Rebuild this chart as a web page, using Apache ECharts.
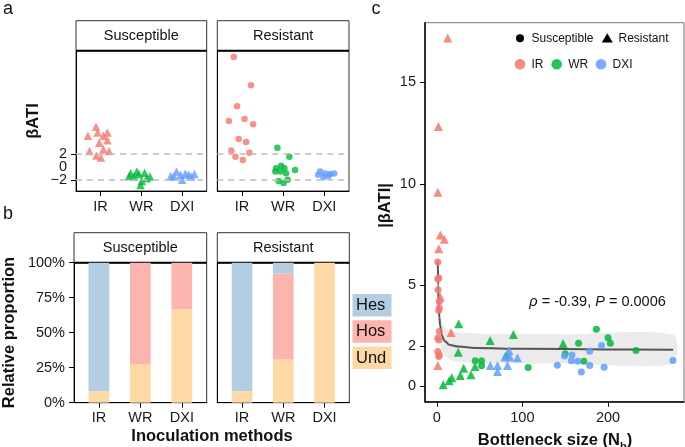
<!DOCTYPE html>
<html><head><meta charset="utf-8">
<script src="https://cdn.jsdelivr.net/npm/echarts@6/dist/echarts.min.js"></script>
<style>html,body{margin:0;padding:0;background:#fff}#c{width:685px;height:447px}</style>
</head><body><div id="c"></div>
<script>
const FONT = '"Liberation Sans", Arial, sans-serif';
const methods = ['IR', 'WR', 'DXI'];
const methodColors = ['#F8766D', '#00BA38', '#619CFF'];
const propNames = ['Und', 'Hos', 'Hes'];
const propColors = ['#FED9A6', '#FBB4AE', '#B3CDE3'];

// Panel a: [jitter offset from category, βATI]
const aSusIR = [[-0.11,6.3],[-0.31,4.9],[0.07,4.9],[0.17,5.4],[-0.07,5.4],[0.17,4.2],[-0.03,3.8],[0.07,2.8],[-0.27,2.5],[0.21,2.5],[-0.10,1.8],[0.01,1.5]];
const aSusWR = [[-0.26,-0.97],[-0.11,-0.7],[0.08,-0.88],[0.21,-1.5],[-0.18,-1.5],[0.01,-2.2],[-0.02,-2.8],[-0.06,-1.1],[0.13,-1.75],[-0.30,-1.4]];
const aSusDXI = [[-0.28,-1.4],[-0.14,-0.7],[-0.04,-1.2],[0.08,-1.0],[0.16,-1.2],[0.30,-1.1],[0.0,-2.0],[-0.20,-1.5],[0.22,-1.5]];
const aResIR = [[-0.20,17.2],[0.22,12.8],[-0.12,9.5],[-0.32,7.2],[0.06,7.5],[0.27,6.7],[-0.08,4.4],[0.10,3.9],[-0.26,2.6],[0.18,2.25],[-0.16,1.6],[0.02,1.1]];
const aResWR = [[-0.14,3.0],[0.15,1.6],[0.29,-0.45],[-0.17,-0.2],[-0.05,0.2],[0.03,-0.2],[-0.19,-0.7],[0.07,-0.97],[-0.11,-2.2],[0.01,-2.5],[0.11,-2.0],[-0.07,-0.7]];
const aResDXI = [[-0.10,-0.7],[0.02,-1.0],[0.14,-1.1],[0.24,-1.0],[-0.15,-1.2],[-0.02,-1.6],[0.10,-1.4]];
const aTicks = [-2, 0, 2];
const aThresholds = [2, -2];

// Panel b: relative proportions (%) per method IR, WR, DXI
const bSusHes = [91.7, 0, 0];
const bSusHos = [0, 72.7, 33.3];
const bSusUnd = [8.3, 27.3, 66.7];
const bResHes = [91.7, 7.7, 0];
const bResHos = [0, 61.5, 0];
const bResUnd = [8.3, 30.8, 100];
const bTicks = [0, 25, 50, 75, 100];

// Panel c: [bottleneck size Nb, |βATI|]
const cSusIR = [[1.2,6.14],[2.3,5.35],[1.2,5.3],[1.5,4.77],[3,4.19],[3,3.87],[2.3,3.75],[3,2.71],[1.2,2.39],[2.3,2.3],[1.2,1.73],[3,1.56],[2.3,1.48]];
const cResIR = [[12.8,17.19],[1.9,12.83],[1.2,9.59],[4.2,7.48],[8.8,7.27],[2.3,6.8],[4.2,4.41],[16.6,2.67],[1.2,1.04]];
const cSusWR = [[44.9,1.27],[52.3,1.27],[52.3,1.02],[106.8,0.94],[186.4,2.83],[200,2.4],[202.7,2.13],[165.6,2.14],[232.6,1.78],[150,1.61],[171.8,1.24]];
const cResWR = [[25.6,3.09],[25.1,1.69],[62.3,2.27],[89.5,2.56],[81.2,1.56],[147.5,2.12],[31.4,0.9],[27.4,0.54],[39.9,0.58],[17.6,0.43],[14.5,0.28],[7.5,0.09],[44.7,0.99]];
const cSusDXI = [[140.8,1.05],[149.2,1.5],[158,1.55],[157.3,1.27],[164.7,1.25],[178.6,1.74],[178.6,1.04],[168.8,0.71],[192.4,2.02],[195.5,0.95],[275.8,1.28]];
const cResDXI = [[62.5,1.03],[70.9,1.03],[70.9,0.74],[82.6,1.03],[94.2,1.42],[84.4,1.76],[79.5,1.46],[85.5,1.46]];
const fitN = [1.2, 1.6, 2.2, 3, 4, 6, 9, 15, 25, 45, 100, 200, 276];
const fitY = [6.17, 5.0, 4.0, 3.4, 3.0, 2.5, 2.25, 2.05, 1.97, 1.9, 1.86, 1.83, 1.81];
const bandN = [1.2, 2, 3, 5, 8, 15, 30, 60, 150, 276];
const bandLo = [4.6, 3.3, 2.6, 2.0, 1.65, 1.35, 1.2, 1.15, 1.13, 1.12];
const bandHi = [7.9, 5.4, 4.2, 3.4, 3.0, 2.75, 2.65, 2.6, 2.58, 2.56];
const cXTicks = [0, 100, 200];
const cYTicks = [0, 2, 5, 10, 15];

const chart = echarts.init(document.getElementById('c'), null, {renderer: 'canvas'});
const axisTxt = {color: '#1a1a1a', fontFamily: FONT, fontSize: 14.5, hideOverlap: false};
const blackLine = {color: '#000', width: 1};

function catX(g) {
  return {gridIndex: g, type: 'value', min: 0.4, max: 3.6,
    axisLine: {show: true, onZero: false, lineStyle: blackLine},
    axisTick: {show: true, customValues: [1,2,3], length: 5, lineStyle: blackLine},
    axisLabel: Object.assign({show: true, customValues: [1,2,3], margin: 8, formatter: v => methods[Math.round(v) - 1]}, axisTxt),
    splitLine: {show: false}};
}
function yAx(g, min, max, ticks, fmt, showLab) {
  return {gridIndex: g, type: 'value', min, max,
    axisLine: {show: true, onZero: false, lineStyle: blackLine},
    axisTick: {show: showLab, customValues: ticks, length: 5, lineStyle: blackLine},
    axisLabel: Object.assign({show: showLab, customValues: ticks, margin: 9, formatter: fmt,
      showMinLabel: true, showMaxLabel: true}, axisTxt),
    splitLine: {show: false}};
}
const minusFmt = v => v < 0 ? '\u2212' + Math.abs(v) : String(v);

const series = [];
function jitterSeries(g, arr, mi, symbol, size) {
  return {type: 'scatter', xAxisIndex: g, yAxisIndex: g, symbol, symbolSize: size,
    itemStyle: {color: methodColors[mi]}, z: 3,
    data: arr.map(p => [mi + 1 + p[0], p[1]])};
}
[[aSusIR, aSusWR, aSusDXI, 'triangle', 8.5, 0], [aResIR, aResWR, aResDXI, 'circle', 6.5, 1]].forEach(([a1, a2, a3, sym, sz, g]) => {
  series.push({type: 'line', xAxisIndex: g, yAxisIndex: g, data: [], z: 1,
    markLine: {silent: true, symbol: ['none', 'none'], label: {show: false},
      lineStyle: {type: [6, 5], color: '#bdbdbd', width: 1.5},
      data: aThresholds.map(t => ({yAxis: t}))}});
  [a1, a2, a3].forEach((arr, mi) => series.push(jitterSeries(g, arr, mi, sym, sz)));
});

function barSeries(g, hes, hos, und) {
  const items = [];
  for (let i = 0; i < 3; i++) {
    let base = 0;
    [und[i], hos[i], hes[i]].forEach((v, k) => {
      if (v > 0) { items.push([i + 1, base, base + v, k]); base += v; }
    });
  }
  return {type: 'custom', xAxisIndex: g, yAxisIndex: g, data: items, encode: {x: 0, y: [1, 2]},
    renderItem: (params, api) => {
      const x = api.value(0), y0 = api.value(1), y1 = api.value(2), k = api.value(3);
      const p0 = api.coord([x, y0]), p1 = api.coord([x, y1]);
      const w = api.size([0.5, 0])[0];
      return {type: 'rect', shape: {x: p0[0] - w / 2, y: p1[1], width: w, height: p0[1] - p1[1]},
        style: {fill: propColors[k]}};
    }};
}
series.push(barSeries(2, bSusHes, bSusHos, bSusUnd));
series.push(barSeries(3, bResHes, bResHos, bResUnd));

series.push({type: 'custom', xAxisIndex: 4, yAxisIndex: 4, data: [[0, 0]], silent: true, z: 1,
  renderItem: (params, api) => {
    const pts = [];
    bandN.forEach((n, i) => pts.push(api.coord([n, bandHi[i]])));
    for (let i = bandN.length - 1; i >= 0; i--) pts.push(api.coord([bandN[i], bandLo[i]]));
    return {type: 'polygon', shape: {points: pts, smooth: 0.25}, style: {fill: '#ebebeb'}};
  }});
series.push({type: 'line', xAxisIndex: 4, yAxisIndex: 4, showSymbol: false, smooth: 0.4, smoothMonotone: 'x',
  lineStyle: {color: '#555', width: 2}, z: 2, silent: true,
  data: fitN.map((n, i) => [n, fitY[i]])});
[[cSusIR, 0, 'circle'], [cSusWR, 1, 'circle'], [cSusDXI, 2, 'circle'],
 [cResIR, 0, 'triangle'], [cResWR, 1, 'triangle'], [cResDXI, 2, 'triangle']].forEach(([arr, mi, sym]) => {
  series.push({type: 'scatter', xAxisIndex: 4, yAxisIndex: 4, symbol: sym, symbolSize: sym === 'circle' ? 7 : 9,
    itemStyle: {color: methodColors[mi], opacity: 0.85}, z: 4, data: arr});
});

function T(x, y, text, font, align, extra) {
  return Object.assign({type: 'text', x, y, silent: true,
    style: {text, font, fill: '#111', textAlign: align || 'center', align: align || 'center',
      textVerticalAlign: 'middle', verticalAlign: 'middle'}}, extra || {});
}
const titleFont = 'bold 16.5px ' + FONT;
const stripFont = '14.5px ' + FONT;
const graphics = [
  T(8, 9, 'a', '18px ' + FONT), T(8, 214, 'b', '18px ' + FONT), T(376, 9, 'c', '18px ' + FONT),
];
[[76, 20.7, 130.7, 'Susceptible'], [217.3, 20.7, 131.7, 'Resistant'],
 [74, 232.7, 132.7, 'Susceptible'], [217.3, 232.7, 132, 'Resistant']].forEach(([x, y, w, t]) => {
  graphics.push({type: 'rect', shape: {x, y, width: w, height: 30}, style: {fill: '#fff', stroke: '#333', lineWidth: 1}, silent: true});
  graphics.push({type: 'line', shape: {x1: x, y1: y + 30, x2: x + w, y2: y + 30}, style: {stroke: '#000', lineWidth: 2}, silent: true});
  graphics.push(T(x + w / 2, y + 15, t, stripFont));
});
graphics.push(T(33, 121, '\u03b2ATI', titleFont, 'center', {rotation: Math.PI / 2}));
graphics.push(T(9, 332.5, 'Relative proportion', titleFont, 'center', {rotation: Math.PI / 2}));
graphics.push(T(212, 436, 'Inoculation methods', titleFont));
graphics.push(T(385, 205.5, '|\u03b2ATI|', titleFont, 'center', {rotation: Math.PI / 2}));
graphics.push({type: 'text', x: 555, y: 438, silent: true,
  style: {text: '{n|Bottleneck size (N}{s|b}{n|)}', textAlign: 'center', align: 'center', textVerticalAlign: 'middle', verticalAlign: 'middle',
    rich: {n: {font: titleFont, fill: '#111', lineHeight: 22, verticalAlign: 'bottom'},
           s: {font: 'bold 11px ' + FONT, fill: '#111', lineHeight: 22, verticalAlign: 'bottom', padding: [0, 0, -3, 0]}}}});
// legend b
propNames.slice().reverse().forEach((nm, i) => {
  const k = propNames.length - 1 - i;
  const y = 294 + i * 26.3;
  graphics.push({type: 'rect', shape: {x: 352.5, y, width: 39, height: 22.5}, style: {fill: propColors[k]}, silent: true});
  graphics.push(T(356, y + 11.5, nm, '16.5px ' + FONT, 'left'));
});
// legend c
const lf = '12px ' + FONT;
graphics.push({type: 'circle', shape: {cx: 520, cy: 38.3, r: 4}, style: {fill: '#000'}, silent: true});
graphics.push(T(531.5, 38.3, 'Susceptible', lf, 'left'));
graphics.push({type: 'polygon', shape: {points: [[607.3, 33.3], [601.8, 42.5], [612.8, 42.5]]}, style: {fill: '#000'}, silent: true});
graphics.push(T(618.5, 38.3, 'Resistant', lf, 'left'));
[[520, 'IR', 0], [556.7, 'WR', 1], [601, 'DXI', 2]].forEach(([cx, t, mi]) => {
  graphics.push({type: 'circle', shape: {cx, cy: 64.3, r: 5.3}, style: {fill: methodColors[mi], opacity: 0.85}, silent: true});
  graphics.push(T(cx + 11.5, 64.3, t, lf, 'left'));
});
graphics.push({type: 'text', x: 529.3, y: 302.3, silent: true,
  style: {text: '{i|\u03c1} = -0.39, {i|P} = 0.0006', font: '14.5px ' + FONT, fill: '#111', textAlign: 'left', align: 'left', textVerticalAlign: 'middle', verticalAlign: 'middle',
    rich: {i: {fontStyle: 'italic', font: 'italic 14.5px ' + FONT, fill: '#111'}}}});

const gridStyle = {show: true, borderColor: '#333', borderWidth: 1, backgroundColor: 'transparent'};
// extra label-only axis so that overlapping tick labels in panel a are all kept
const aMidAxis = {gridIndex: 0, type: 'value', min: -3.75, max: 18.2, position: 'left', offset: 0,
  axisLine: {show: false}, axisTick: {show: false}, splitLine: {show: false},
  axisLabel: Object.assign({show: true, customValues: [0], margin: 9, formatter: minusFmt}, axisTxt)};
chart.setOption({
  animation: false,
  backgroundColor: '#fff',
  grid: [
    Object.assign({left: 76, top: 50.7, width: 130.7, height: 140.3}, gridStyle),
    Object.assign({left: 217.3, top: 50.7, width: 131.7, height: 140.3}, gridStyle),
    Object.assign({left: 74, top: 262.7, width: 132.7, height: 140}, gridStyle),
    Object.assign({left: 217.3, top: 262.7, width: 132, height: 140}, gridStyle),
    Object.assign({}, gridStyle, {left: 425, top: 22.7, width: 259, height: 379, borderColor: '#777'})
  ],
  xAxis: [catX(0), catX(1), catX(2), catX(3),
    {gridIndex: 4, type: 'value', min: -13.75, max: 288.75,
      axisLine: {show: true, onZero: false, lineStyle: {color: '#000', width: 1.5}},
      axisTick: {show: true, customValues: cXTicks, length: 5, lineStyle: blackLine},
      axisLabel: Object.assign({show: true, customValues: cXTicks, margin: 9}, axisTxt),
      splitLine: {show: false}}],
  yAxis: [Object.assign(yAx(0, -3.75, 18.2, aTicks, minusFmt, true), {position: 'left'}),
    yAx(1, -3.75, 18.2, aTicks, minusFmt, false),
    yAx(2, 0, 100, bTicks, v => v + '%', true), yAx(3, 0, 100, bTicks, v => v + '%', false),
    {gridIndex: 4, type: 'value', min: -0.75, max: 17.95,
      axisLine: {show: true, onZero: false, lineStyle: {color: '#000', width: 1.5}},
      axisTick: {show: true, customValues: cYTicks, length: 5, lineStyle: blackLine},
      axisLabel: Object.assign({show: true, customValues: cYTicks, margin: 9}, axisTxt),
      splitLine: {show: false}},
    aMidAxis],
  series,
  graphic: {elements: graphics}
});
</script></body></html>
